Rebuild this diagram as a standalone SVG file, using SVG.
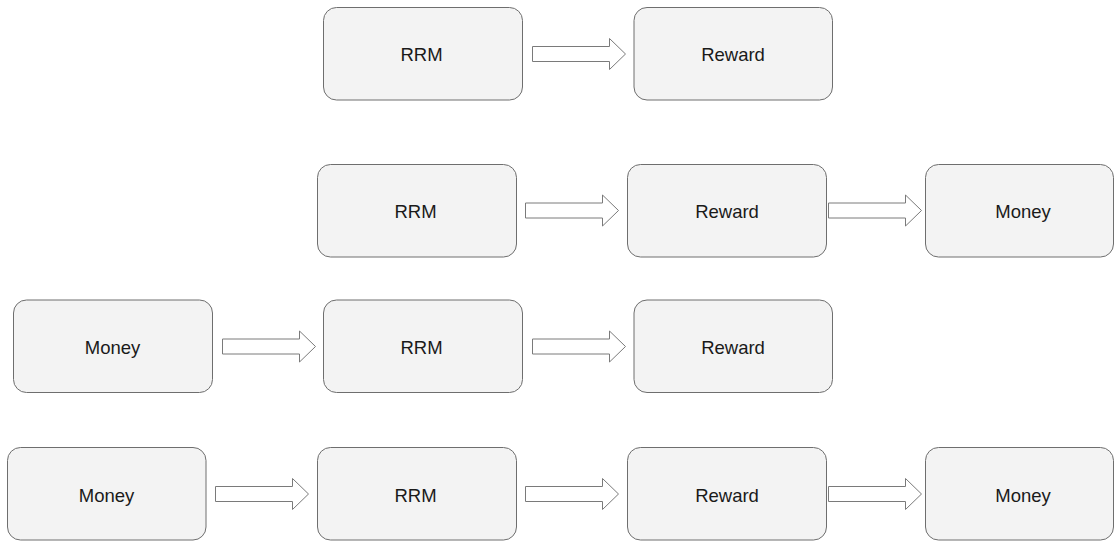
<svg xmlns="http://www.w3.org/2000/svg" width="1115" height="541" viewBox="0 0 1115 541">
  <defs>
    <style>
      .box { fill: #f3f3f3; stroke: #6e6e6e; stroke-width: 1; }
      .lbl { font-family: "Liberation Sans", Arial, sans-serif; font-size: 18.5px; fill: #1a1a1a; text-anchor: middle; }
      .arrow { fill: #ffffff; stroke: #7a7a7a; stroke-width: 1; stroke-linejoin: miter; }
    </style>
    <!-- hollow block arrow, origin at tail centre -->
    <path id="blockArrow" class="arrow" d="M0,-7.5 H77 V-15.5 L93,0 L77,15.5 V7.5 H0 Z"/>
  </defs>
  <rect width="1115" height="541" fill="#ffffff"/>

  <!-- Row 1 -->
  <g id="r1-rrm"><rect class="box" x="323.5" y="7.5" width="199" height="92.5" rx="13"/><text class="lbl" x="421.5" y="61">RRM</text></g>
  <g id="r1-reward"><rect class="box" x="634" y="7.5" width="198.5" height="92.5" rx="13"/><text class="lbl" x="733" y="61">Reward</text></g>

  <!-- Row 2 -->
  <g id="r2-rrm"><rect class="box" x="317.5" y="164.5" width="199" height="92.5" rx="13"/><text class="lbl" x="415.5" y="218">RRM</text></g>
  <g id="r2-reward"><rect class="box" x="627.5" y="164.5" width="199" height="92.5" rx="13"/><text class="lbl" x="727" y="218">Reward</text></g>
  <g id="r2-money"><rect class="box" x="925.5" y="164.5" width="188" height="92.5" rx="13"/><text class="lbl" x="1023" y="218">Money</text></g>

  <!-- Row 3 -->
  <g id="r3-money"><rect class="box" x="13.5" y="300" width="199" height="92.5" rx="13"/><text class="lbl" x="112.5" y="354">Money</text></g>
  <g id="r3-rrm"><rect class="box" x="323.5" y="300" width="199" height="92.5" rx="13"/><text class="lbl" x="421.5" y="354">RRM</text></g>
  <g id="r3-reward"><rect class="box" x="634" y="300" width="198.5" height="92.5" rx="13"/><text class="lbl" x="733" y="354">Reward</text></g>

  <!-- Row 4 -->
  <g id="r4-money"><rect class="box" x="7.5" y="447.5" width="198.5" height="92.5" rx="13"/><text class="lbl" x="106.5" y="501.5">Money</text></g>
  <g id="r4-rrm"><rect class="box" x="317.5" y="447.5" width="199" height="92.5" rx="13"/><text class="lbl" x="415.5" y="501.5">RRM</text></g>
  <g id="r4-reward"><rect class="box" x="627.5" y="447.5" width="199" height="92.5" rx="13"/><text class="lbl" x="727" y="501.5">Reward</text></g>
  <g id="r4-money2"><rect class="box" x="925.5" y="447.5" width="188" height="92.5" rx="13"/><text class="lbl" x="1023" y="501.5">Money</text></g>

  <!-- Connectors -->
  <g id="connectors">
    <use href="#blockArrow" transform="translate(532.5,54)"/>
    <use href="#blockArrow" transform="translate(525.5,210.5)"/>
    <use href="#blockArrow" transform="translate(828.5,210.5)"/>
    <use href="#blockArrow" transform="translate(222.5,346.5)"/>
    <use href="#blockArrow" transform="translate(532.5,346.5)"/>
    <use href="#blockArrow" transform="translate(215.5,494)"/>
    <use href="#blockArrow" transform="translate(525.5,494)"/>
    <use href="#blockArrow" transform="translate(828.5,494)"/>
  </g>
</svg>
